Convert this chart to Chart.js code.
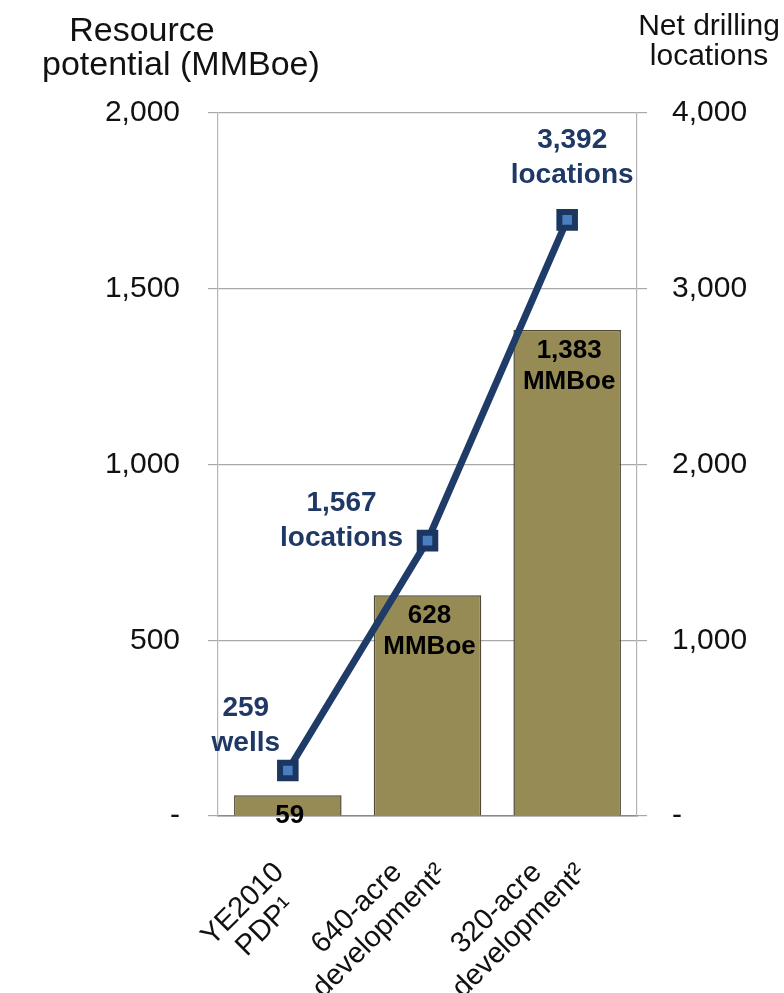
<!DOCTYPE html>
<html lang="en">
<head>
    <meta charset="UTF-8">
    <title>Resource potential and net drilling locations</title>
    <script src="https://cdn.jsdelivr.net/npm/chart.js@4.4.0/dist/chart.umd.min.js"></script>
    <style>
        body { margin: 0; background: #fff; font-family: 'Liberation Sans', Arial, sans-serif; }
        #wrap { position: relative; width: 784px; height: 993px; overflow: hidden; }
        .axis-title { position: absolute; text-align: center; color: #111; white-space: nowrap; }
        #title-left { left: 42px; width: 200px; top: 12px; font-size: 34px; line-height: 34px; }
        #title-right { left: 609px; width: 200px; top: 10px; font-size: 30px; line-height: 30px; }
    </style>
</head>
<body>
<div id="wrap">
    <canvas id="myChart"></canvas>
    <div class="axis-title" id="title-left">Resource<br>potential (MMBoe)</div>
    <div class="axis-title" id="title-right">Net drilling<br>locations</div>
</div>

<script>
    // data
    const categories = [['YE2010', 'PDP¹'], ['640-acre', 'development²'], ['320-acre', 'development²']];
    const resourceMMBoe = [59, 628, 1383];
    const drillingLocations = [259, 1567, 3392];
    const locationUnits = ['wells', 'locations', 'locations'];
    const leftTicks = [0, 500, 1000, 1500, 2000];
    const rightTicks = [0, 1000, 2000, 3000, 4000];

    const fmt = v => v.toLocaleString('en-US');
    const tickFmt = v => v === 0 ? '-' : fmt(v);

    const barLabels = resourceMMBoe.map((v, i) => i === 0 ? [fmt(v)] : [fmt(v), 'MMBoe']);
    const lineLabels = drillingLocations.map((v, i) => [fmt(v), locationUnits[i]]);
    // label block offsets from each line point (px)
    const lineLabelOffsets = [[-42, -45], [-86, -20], [5, -62]];

    const FONT = "'Liberation Sans', Arial, sans-serif";
    Chart.defaults.font.family = FONT;

    const labelPlugin = {
        id: 'valueLabels',
        afterDatasetsDraw(chart) {
            const ctx = chart.ctx;
            const bars = chart.getDatasetMeta(0).data;
            const pts = chart.getDatasetMeta(1).data;
            ctx.save();
            ctx.textAlign = 'center';
            ctx.textBaseline = 'middle';

            ctx.font = 'bold 26px ' + FONT;
            ctx.fillStyle = '#000';
            bars.forEach((bar, i) => {
                barLabels[i].forEach((t, j) => ctx.fillText(t, bar.x + 2, bar.y + 21 + j * 31));
            });

            ctx.font = 'bold 28px ' + FONT;
            ctx.fillStyle = '#1F3864';
            pts.forEach((pt, i) => {
                const [dx, dy] = lineLabelOffsets[i];
                const lines = lineLabels[i];
                lines.forEach((t, j) => ctx.fillText(t, pt.x + dx, pt.y + dy + (j - (lines.length - 1) / 2) * 35));
            });
            ctx.restore();
        },
        afterDraw(chart) {
            // rotated category labels, lines centred on each other
            const ctx = chart.ctx;
            const x = chart.scales.x;
            ctx.save();
            ctx.font = '29px ' + FONT;
            ctx.fillStyle = '#111';
            ctx.textAlign = 'center';
            ctx.textBaseline = 'middle';
            const lh = 32;
            const k = Math.SQRT1_2;
            categories.forEach((lines, i) => {
                const w = Math.max(...lines.map(l => ctx.measureText(l).width));
                const w1 = ctx.measureText(lines[0]).width;
                const cx = x.getPixelForValue(i) + 3 - k * w / 2;
                const cy = x.top + 52 + k * (w1 + lh) / 2;
                ctx.save();
                ctx.translate(cx, cy);
                ctx.rotate(-Math.PI / 4);
                lines.forEach((l, j) => ctx.fillText(l, 0, (j - (lines.length - 1) / 2) * lh));
                ctx.restore();
            });
            ctx.restore();
        }
    };

    new Chart(document.getElementById('myChart'), {
        data: {
            labels: categories,
            datasets: [
                {
                    type: 'bar',
                    data: resourceMMBoe,
                    yAxisID: 'y',
                    backgroundColor: '#968B55',
                    borderColor: '#4E4834',
                    borderWidth: 1.5,
                    barPercentage: 0.77,
                    categoryPercentage: 1,
                    order: 2
                },
                {
                    type: 'line',
                    data: drillingLocations,
                    yAxisID: 'y2',
                    borderColor: '#1F3C68',
                    borderWidth: 7,
                    tension: 0,
                    pointStyle: 'rect',
                    pointRadius: 11,
                    pointBorderWidth: 6,
                    pointBorderColor: '#1B3660',
                    pointBackgroundColor: '#4A7EC0',
                    order: 1
                }
            ]
        },
        options: {
            responsive: true,
            maintainAspectRatio: false,
            animation: false,
            layout: { padding: { top: 113 } },
            plugins: {
                legend: { display: false },
                tooltip: { enabled: false }
            },
            scales: {
                x: {
                    grid: { display: true, drawOnChartArea: false, drawTicks: false },
                    border: { display: true, color: '#8a8a8a', width: 1.5 },
                    ticks: { display: false },
                    afterFit(s) { s.height = 177; }
                },
                y: {
                    position: 'left',
                    min: 0,
                    max: 2000,
                    afterBuildTicks(s) { s.ticks = leftTicks.map(v => ({ value: v })); },
                    ticks: { callback: tickFmt, font: { size: 30 }, color: '#111', padding: 28 },
                    grid: { color: '#a8a8a8', lineWidth: 1.2, tickLength: 10 },
                    border: { color: '#b5b5b5', width: 1.2 },
                    afterFit(s) { s.width = 218; }
                },
                y2: {
                    position: 'right',
                    min: 0,
                    max: 4000,
                    afterBuildTicks(s) { s.ticks = rightTicks.map(v => ({ value: v })); },
                    ticks: { callback: tickFmt, font: { size: 30 }, color: '#111', padding: 25 },
                    grid: { drawOnChartArea: false, color: '#a8a8a8', lineWidth: 1.2, tickLength: 10 },
                    border: { color: '#b5b5b5', width: 1.2 },
                    afterFit(s) { s.width = 147; }
                }
            }
        },
        plugins: [labelPlugin]
    });
</script>
</body>
</html>
